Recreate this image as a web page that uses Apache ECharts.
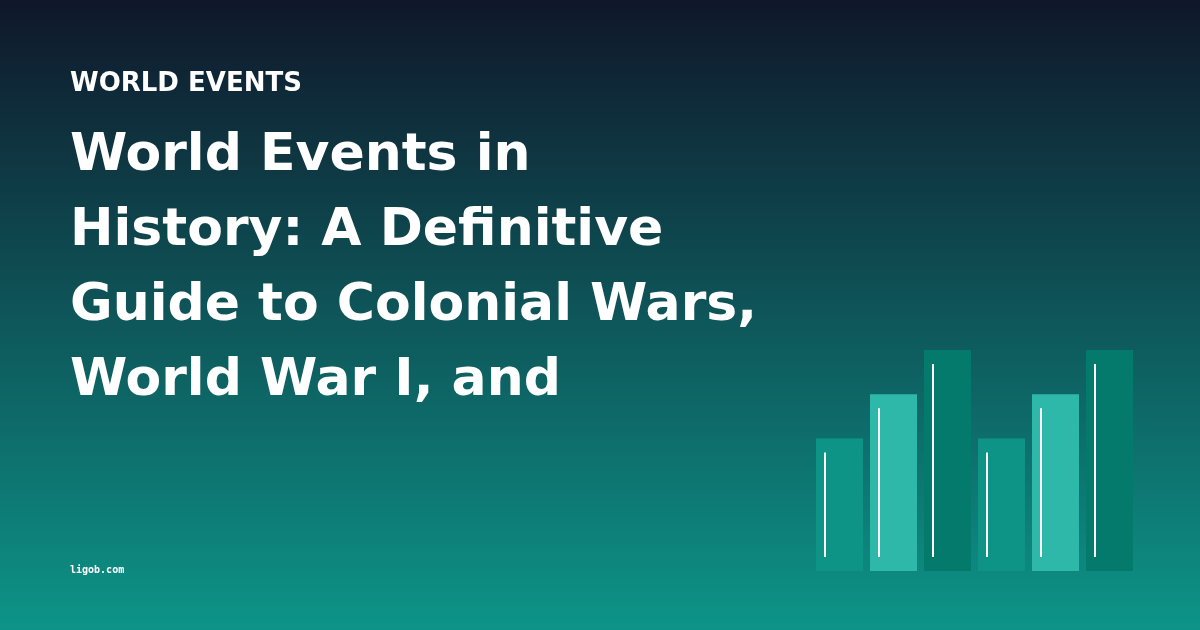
<!DOCTYPE html>
<html>
<head>
<meta charset="utf-8">
<script src="https://cdn.jsdelivr.net/npm/echarts@6/dist/echarts.min.js"></script>
<style>
  html, body { margin: 0; padding: 0; }
  #chart { width: 1200px; height: 630px; }
</style>
</head>
<body>
<div id="chart"></div>
<script>
var kicker = 'WORLD EVENTS';
var titleLines = ['World Events in', 'History: A Definitive', 'Guide to Colonial Wars,', 'World War I, and'];
var siteName = 'ligob.com';

// decorative bars
var barNames = ['a', 'b', 'c', 'd', 'e', 'f'];
var barValues = [3, 4, 5, 3, 4, 5];
var barColors = ['#0e9486', '#2eb8aa', '#037a6c', '#0e9486', '#2eb8aa', '#037a6c'];

var myChart = echarts.init(document.getElementById('chart'));

// title text as graphic elements
var graphics = [];
graphics.push({
    type: 'text', left: 70, top: 71,
    style: { text: kicker, fill: '#ffffff', font: 'bold 26px "DejaVu Sans"' }
});
titleLines.forEach(function (line, i) {
    graphics.push({
        type: 'text', left: 70, top: 130 + i * 75,
        style: { text: line, fill: '#ffffff', font: 'bold 52px "DejaVu Sans"' }
    });
});
graphics.push({
    type: 'text', left: 70, top: 565,
    style: { text: siteName, fill: '#ffffff', font: 'bold 10px "DejaVu Sans Mono"' }
});

var option = {
    backgroundColor: new echarts.graphic.LinearGradient(0, 0, 0, 1, [
        { offset: 0, color: '#0f172a' },
        { offset: 1, color: '#0d9488' }
    ]),
    animation: false,
    graphic: graphics,
    grid: { left: 812.5, right: 63.5, top: 350, bottom: 59 },
    xAxis: {
        type: 'category',
        data: barNames,
        show: false
    },
    yAxis: {
        type: 'value',
        min: 0,
        max: 5,
        show: false
    },
    series: [
        {
            type: 'bar',
            barWidth: 47,
            data: barValues.map(function (v, i) {
                return { value: v, itemStyle: { color: barColors[i] } };
            })
        },
        {
            // thin white line inside each bar
            type: 'custom',
            z: 10,
            encode: { x: 0, y: 1 },
            data: barValues.map(function (v, i) { return [i, v]; }),
            renderItem: function (params, api) {
                var top = api.coord([api.value(0), api.value(1)]);
                var base = api.coord([api.value(0), 0]);
                return {
                    type: 'rect',
                    shape: { x: top[0] - 15.5, y: top[1] + 14, width: 2, height: base[1] - top[1] - 28 },
                    style: { fill: '#ffffff' }
                };
            }
        }
    ]
};

myChart.setOption(option);
</script>
</body>
</html>
